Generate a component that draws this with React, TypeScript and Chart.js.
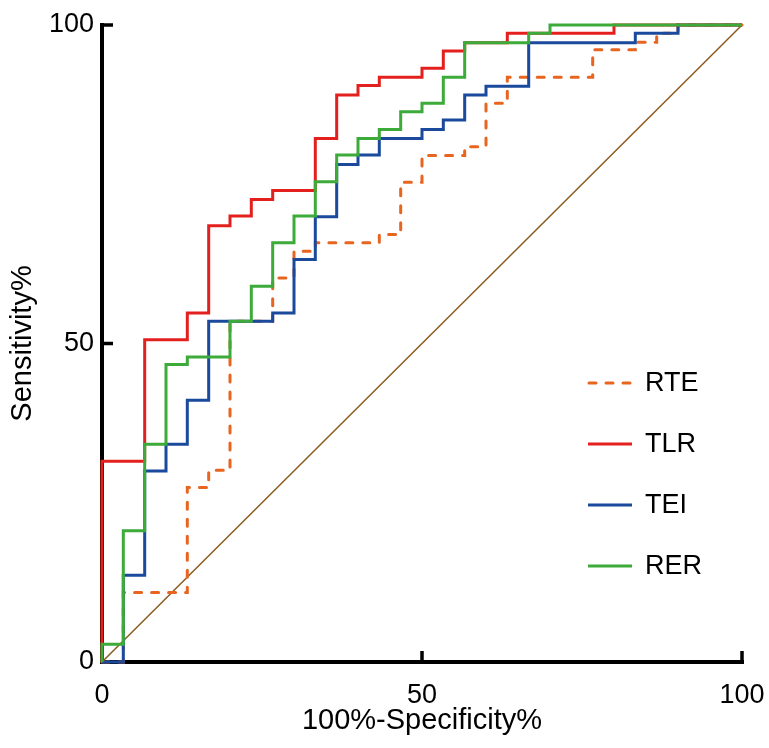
import React, { useEffect, useRef } from "react";
import { Chart, registerables } from "chart.js";

Chart.register(...registerables);

// ---- data ----
const legendOrder = ["RTE", "TLR", "TEI", "RER"];

// each point = top of a vertical step (stepped 'before': horizontal first, then vertical)
const rteX = [0, 3.33, 13.33, 16.67, 20, 26.67, 30, 33.33, 43.33, 46.67, 50, 56.67, 60, 63.33, 76.67, 83.33, 86.67, 90, 100];
const rteY = [0, 10.9, 27.4, 30.1, 53.5, 60.3, 64.5, 65.8, 67.1, 75.3, 79.5, 80.9, 87.7, 91.8, 96.1, 97.3, 98.7, 100, 100];

const tlrX = [0, 0, 6.67, 13.33, 16.67, 20, 23.33, 26.67, 33.33, 36.67, 40, 43.33, 50, 53.33, 56.67, 63.33, 80, 100];
const tlrY = [0, 31.5, 50.6, 54.8, 68.5, 70, 72.6, 74, 82.2, 89, 90.5, 91.8, 93.2, 95.9, 97.2, 98.7, 100, 100];

const teiX = [0, 3.33, 6.67, 10, 13.33, 16.67, 26.67, 30, 33.33, 36.67, 40, 43.33, 50, 53.33, 56.67, 60, 66.67, 83.33, 90, 100];
const teiY = [0, 13.6, 30, 34.2, 41.1, 53.5, 54.8, 63.2, 69.9, 78.1, 79.6, 82.2, 83.6, 85.1, 89, 90.4, 97.2, 98.7, 100, 100];

const rerX = [0, 0, 3.33, 6.67, 10, 13.33, 20, 23.33, 26.67, 30, 33.33, 36.67, 40, 43.33, 46.67, 50, 53.33, 56.67, 66.67, 70, 100];
const rerY = [0, 2.8, 20.6, 34.2, 46.7, 47.9, 53.5, 59, 65.8, 70, 75.4, 79.6, 82.2, 83.6, 86.4, 87.7, 91.8, 97.2, 98.7, 100, 100];

const diagX = [0, 100];
const diagY = [0, 100];

const axisMin = 0;
const axisMax = 100;
const axisStep = 50;
const xTitle = "100%-Specificity%";
const yTitle = "Sensitivity%";

const FONT = "'Liberation Sans', Arial, Helvetica, sans-serif";

const toPts = (xs: number[], ys: number[]) => xs.map((x, i) => ({ x, y: ys[i] }));

// axes drawn as in the reference: thick black lines, ticks pointing inward
const axesPlugin = {
  id: "rocAxes",
  beforeDatasetsDraw(chart: any) {
    const { ctx } = chart;
    const xs = chart.scales.x;
    const ys = chart.scales.y;
    const x0 = xs.getPixelForValue(axisMin);
    const x1 = xs.getPixelForValue(axisMax);
    const y0 = ys.getPixelForValue(axisMin);
    const y1 = ys.getPixelForValue(axisMax);
    ctx.save();
    ctx.strokeStyle = "#000";
    ctx.lineWidth = 4;
    ctx.lineCap = "butt";
    ctx.beginPath();
    ctx.moveTo(x0, y0 + 2);
    ctx.lineTo(x0, y1 - 2);
    ctx.moveTo(x0 - 2, y0);
    ctx.lineTo(x1 + 2, y0);
    ctx.stroke();
    ctx.lineWidth = 3.5;
    ctx.beginPath();
    for (let v = axisMin + axisStep; v <= axisMax; v += axisStep) {
      const py = ys.getPixelForValue(v);
      ctx.moveTo(x0 - 2, py);
      ctx.lineTo(x0 + 11, py);
      const px = xs.getPixelForValue(v);
      ctx.moveTo(px, y0 + 2);
      ctx.lineTo(px, y0 - 11);
    }
    ctx.stroke();
    ctx.restore();
  },
};

const legendRows = [383, 444, 505, 566];
const legendPlugin = {
  id: "rocLegend",
  afterDatasetsDraw(chart: any) {
    const { ctx } = chart;
    ctx.save();
    legendOrder.forEach((name, i) => {
      const ds = chart.data.datasets.find((d: any) => d.label === name);
      if (!ds) return;
      const yy = legendRows[i];
      ctx.strokeStyle = ds.borderColor;
      ctx.lineWidth = ds.borderWidth;
      ctx.setLineDash(ds.borderDash || []);
      ctx.lineCap = ds.borderCapStyle || "butt";
      ctx.beginPath();
      ctx.moveTo(ds.borderDash ? 589 : 588, yy);
      ctx.lineTo(632, yy);
      ctx.stroke();
      ctx.setLineDash([]);
      ctx.fillStyle = "#000";
      ctx.font = `27px ${FONT}`;
      ctx.textAlign = "left";
      ctx.textBaseline = "middle";
      ctx.fillText(name, 645, yy + 1);
    });
    ctx.restore();
  },
};

export default function App() {
  const ref = useRef<HTMLCanvasElement | null>(null);

  useEffect(() => {
    if (!ref.current) return;
    const common = {
      pointRadius: 0,
      pointHoverRadius: 0,
      fill: false,
      tension: 0,
      stepped: true,
      borderWidth: 3,
      borderJoinStyle: "miter",
      clip: false,
    };
    const chart = new Chart(ref.current, {
      type: "line",
      data: {
        datasets: [
          {
            ...common,
            label: "RER",
            data: toPts(rerX, rerY),
            borderColor: "#3CAB3A",
            order: 1,
          },
          {
            ...common,
            label: "TLR",
            data: toPts(tlrX, tlrY),
            borderColor: "#E3201E",
            order: 2,
          },
          {
            ...common,
            label: "TEI",
            data: toPts(teiX, teiY),
            borderColor: "#1B4A9C",
            order: 3,
          },
          {
            ...common,
            label: "RTE",
            data: toPts(rteX, rteY),
            borderColor: "#E8651F",
            borderDash: [7, 10],
            borderCapStyle: "round",
            order: 4,
          },
          {
            label: "diag",
            data: toPts(diagX, diagY),
            borderColor: "#8B5A1E",
            borderWidth: 1.5,
            pointRadius: 0,
            fill: false,
            tension: 0,
            clip: false,
            order: 5,
          },
        ] as any,
      },
      options: {
        animation: false,
        responsive: false,
        devicePixelRatio: 1,
        layout: { padding: { top: 25, right: 27, left: 0, bottom: 0 } },
        plugins: {
          legend: { display: false },
          tooltip: { enabled: false },
        },
        events: [],
        scales: {
          x: {
            type: "linear",
            min: axisMin,
            max: axisMax,
            afterFit: (s: any) => {
              s.height = 86;
              s.paddingLeft = 0;
              s.paddingRight = 0;
            },
            ticks: {
              stepSize: axisStep,
              color: "#000",
              font: { family: FONT, size: 27 },
              padding: 17,
              maxRotation: 0,
              autoSkip: false,
            },
            grid: { display: false, drawTicks: false },
            border: { display: false },
            title: {
              display: true,
              text: xTitle,
              color: "#000",
              font: { family: FONT, size: 29 },
              padding: { top: 0, bottom: 10 },
            },
          },
          y: {
            type: "linear",
            min: axisMin,
            max: axisMax,
            afterFit: (s: any) => {
              s.width = 102;
              s.paddingTop = 0;
              s.paddingBottom = 0;
            },
            ticks: {
              stepSize: axisStep,
              color: "#000",
              font: { family: FONT, size: 27 },
              padding: 8,
              autoSkip: false,
            },
            grid: { display: false, drawTicks: false },
            border: { display: false },
            title: {
              display: true,
              text: yTitle,
              color: "#000",
              font: { family: FONT, size: 29 },
              padding: { top: 6, bottom: 0 },
            },
          },
        },
      } as any,
      plugins: [axesPlugin, legendPlugin],
    });
    return () => chart.destroy();
  }, []);

  return (
    <div style={{ position: "absolute", left: 0, top: 0, width: 769, height: 748, background: "#fff" }}>
      <canvas ref={ref} width={769} height={748} style={{ width: 769, height: 748, display: "block" }} />
    </div>
  );
}
